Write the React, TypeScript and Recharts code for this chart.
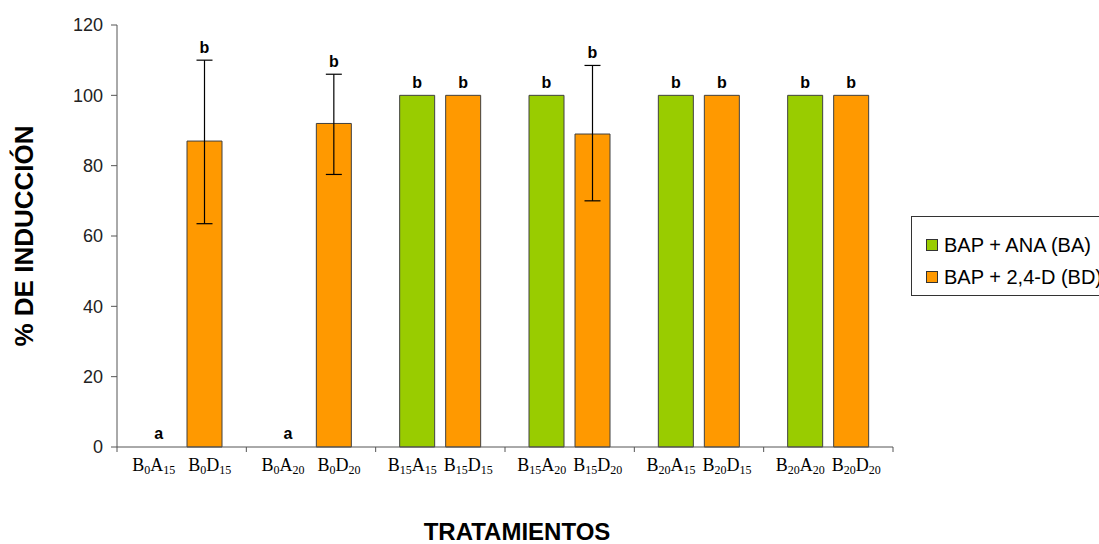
import { BarChart, Bar, XAxis, YAxis, ErrorBar, LabelList, Legend } from 'recharts';

// treatment groups (x categories)
const groups = ['B0-15', 'B0-20', 'B15-15', 'B15-20', 'B20-15', 'B20-20'];
const baNames = ['B0A15', 'B0A20', 'B15A15', 'B15A20', 'B20A15', 'B20A20'];
const bdNames = ['B0D15', 'B0D20', 'B15D15', 'B15D20', 'B20D15', 'B20D20'];

// % induction
const baValues = [0, 0, 100, 100, 100, 100];
const bdValues = [87, 92, 100, 89, 100, 100];

// error bars (BD only)
const bdErrLow = [23.5, 14.5, 0, 19, 0, 0];
const bdErrHigh = [23, 14, 0, 19.5, 0, 0];

// significance letters
const baLetters = ['a', 'a', 'b', 'b', 'b', 'b'];
const bdLetters = ['b', 'b', 'b', 'b', 'b', 'b'];

const yTicks = [0, 20, 40, 60, 80, 100, 120];

const data = groups.map((g, i) => ({
  group: g,
  ba: baValues[i],
  bd: bdValues[i],
  bdErr: bdErrLow[i] || bdErrHigh[i] ? [bdErrLow[i], bdErrHigh[i]] : null,
  baLetter: baLetters[i],
  bdLetter: bdLetters[i],
  bdTop: bdErrHigh[i],
}));

const W = 1099;
const H = 544;
const LEFT = 117;
const RIGHT = 206;
const TOP = 25;
const BOTTOM = 97;
const BAND = (W - LEFT - RIGHT) / groups.length;
const BAR = 35;
const GAP = 11;
const HALF = (BAR + GAP) / 2;
const LABEL_OFF = 28;

const SANS = "Arial, 'Liberation Sans', sans-serif";
const SERIF = "'Times New Roman', 'Liberation Serif', serif";

function subscripted(name: string) {
  const parts = name.match(/[A-Z]\d+/g) || [];
  const out: any[] = [];
  parts.forEach((p, k) => {
    out.push(<tspan key={`l${k}`} fontSize={18} dy={k === 0 ? 0 : -3}>{p[0]}</tspan>);
    out.push(<tspan key={`s${k}`} fontSize={12} dy={3}>{p.slice(1)}</tspan>);
  });
  return out;
}

function Letter({ x, y, text }: { x: number; y: number; text: string }) {
  return (
    <text x={x} y={y} textAnchor="middle" fontFamily={SANS} fontWeight="bold" fontSize={16} fill="#000">
      {text}
    </text>
  );
}

function TreatmentTick(props: any) {
  const { x, y, index, visibleTicksCount } = props;
  const last = index === visibleTicksCount - 1;
  return (
    <g>
      <line x1={x - BAND / 2} x2={x - BAND / 2} y1={y} y2={y + 5} stroke="#555" />
      {last && <line x1={x + BAND / 2} x2={x + BAND / 2} y1={y} y2={y + 5} stroke="#555" />}
      {/* letters of zero-height bars sit on the axis */}
      {baValues[index] === 0 && <Letter x={x - HALF} y={y - 8} text={baLetters[index]} />}
      {bdValues[index] === 0 && <Letter x={x + HALF} y={y - 8} text={bdLetters[index]} />}
      <text x={x - LABEL_OFF} y={y + 24} textAnchor="middle" fontFamily={SERIF} fill="#000">
        {subscripted(baNames[index])}
      </text>
      <text x={x + LABEL_OFF} y={y + 24} textAnchor="middle" fontFamily={SERIF} fill="#000">
        {subscripted(bdNames[index])}
      </text>
    </g>
  );
}

const letterLabel = (valueKey: string, letterKey: string, errKey: string | null) => (props: any) => {
  const vb = props.viewBox && props.viewBox.width != null ? props.viewBox : props;
  const { x, y, width, height } = vb;
  const entry = props.value || {};
  const v = Number(entry[valueKey]) || 0;
  if (v === 0) return null;
  const px = Math.abs(height) / v;
  const err = errKey ? Number(entry[errKey]) || 0 : 0;
  const top = Math.min(y, y + height) - err * px;
  return <Letter x={x + width / 2} y={top - 7} text={entry[letterKey]} />;
};

const legendItems = [
  { label: 'BAP + ANA (BA)', color: '#99CC00' },
  { label: 'BAP + 2,4-D (BD)', color: '#FF9900' },
];

function LegendBox() {
  return (
    <div style={{ border: '1.5px solid #333', width: 200, height: 80, boxSizing: 'border-box', paddingTop: 12, paddingLeft: 14, fontFamily: SANS, fontSize: 20, color: '#000' }}>
      {legendItems.map((it) => (
        <div key={it.label} style={{ display: 'flex', alignItems: 'center', height: 32, whiteSpace: 'nowrap' }}>
          <span style={{ width: 10, height: 10, background: it.color, border: '1px solid #333', marginRight: 6, display: 'inline-block' }} />
          {it.label}
        </div>
      ))}
    </div>
  );
}

export default function App() {
  return (
    <div style={{ position: 'absolute', left: 0, top: 0, width: W, height: H, overflow: 'hidden', background: '#fff' }}>
      <BarChart width={W} height={H} data={data} margin={{ top: TOP, right: RIGHT, bottom: 0, left: 0 }} barSize={BAR} barGap={GAP}>
        <XAxis
          dataKey="group"
          height={BOTTOM}
          axisLine={{ stroke: '#555' }}
          tickLine={false}
          tickSize={0}
          tickMargin={0}
          interval={0}
          tick={<TreatmentTick />}
          label={{
            content: (p: any) => (
              <text x={517} y={p.viewBox.y + 93} textAnchor="middle" fontFamily={SANS} fontWeight="bold" fontSize={24} fill="#000">
                TRATAMIENTOS
              </text>
            ),
          }}
        />
        <YAxis
          width={LEFT}
          domain={[0, 120]}
          ticks={yTicks}
          interval={0}
          axisLine={{ stroke: '#555' }}
          tickLine={{ stroke: '#555' }}
          tickSize={6}
          tickMargin={8}
          tick={{ fill: '#222', fontSize: 18, fontFamily: SANS }}
          label={{
            content: (p: any) => {
              const cx = 33;
              const cy = p.viewBox.y + p.viewBox.height / 2;
              return (
                <text x={cx} y={cy} transform={`rotate(-90 ${cx} ${cy})`} textAnchor="middle" fontFamily={SANS} fontWeight="bold" fontSize={26} fill="#000">
                  % DE INDUCCIÓN
                </text>
              );
            },
          }}
        />
        <Legend
          layout="horizontal"
          verticalAlign="middle"
          align="center"
          content={<LegendBox />}
          wrapperStyle={{ position: 'absolute', left: 911, top: 216, width: 200 }}
        />
        <Bar dataKey="ba" name="BAP + ANA (BA)" fill="#99CC00" stroke="#404040" strokeWidth={1} isAnimationActive={false}>
          <LabelList dataKey={(d: any) => d} content={letterLabel('ba', 'baLetter', null)} />
        </Bar>
        <Bar dataKey="bd" name="BAP + 2,4-D (BD)" fill="#FF9900" stroke="#404040" strokeWidth={1} isAnimationActive={false}>
          <ErrorBar dataKey="bdErr" width={8} stroke="#000" strokeWidth={1.2} direction="y" />
          <LabelList dataKey={(d: any) => d} content={letterLabel('bd', 'bdLetter', 'bdTop')} />
        </Bar>
      </BarChart>
    </div>
  );
}
